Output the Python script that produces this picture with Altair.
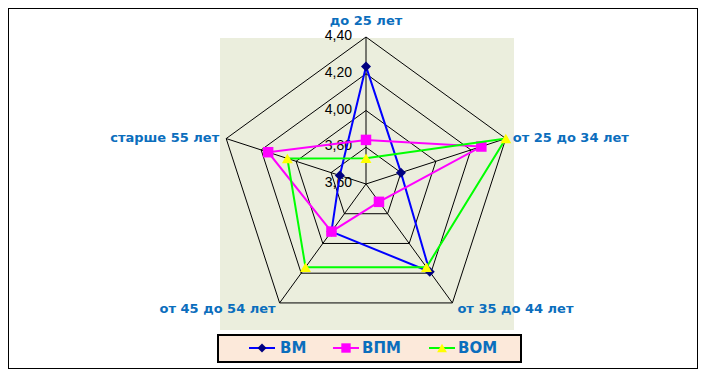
import altair as alt
import pandas as pd

categories = ["до 25 лет", "от 25 до 34 лет", "от 35 до 44 лет", "от 45 до 54 лет", "старше 55 лет"]
series_names = ["ВМ", "ВПМ", "ВОМ"]
vm = [4.24, 3.80, 4.19, 3.92, 3.75]
vpm = [3.84, 4.26, 3.72, 3.92, 4.16]
vom = [3.74, 4.40, 4.16, 4.16, 4.05]
ticks = [3.6, 3.8, 4.0, 4.2, 4.4]
tick_labels = ["3,60", "3,80", "4,00", "4,20", "4,40"]

VMIN = 3.6
W, H = 690, 361
CX, CY, PX = 358, 176, 183.75  # chart centre and pixels per unit

xs = alt.Scale(domain=[-CX / PX, (W - CX) / PX], nice=False, zero=False)
ys = alt.Scale(domain=[-(H - CY) / PX, CY / PX], nice=False, zero=False)


def polar(chart):
    return chart.transform_calculate(ang="2*PI*datum.idx/5").transform_calculate(
        px=f"(datum.value-{VMIN})*sin(datum.ang)",
        py=f"(datum.value-{VMIN})*cos(datum.ang)",
    )


blue_txt = "#0B6EBD"
font = "Liberation Sans"
bold_font = "DejaVu Sans"

one = pd.DataFrame({"a": [0]})

# plot-area background
bg = alt.Chart(one).mark_rect(color="#EBEEDD").encode(
    x=alt.value(212), x2=alt.value(506), y=alt.value(30), y2=alt.value(322)
)

# rings
ring_rows = []
for t in ticks[1:]:
    for k in range(6):
        ring_rows.append({"ring": t, "idx": k % 5, "k": k, "value": t})
rings = polar(alt.Chart(pd.DataFrame(ring_rows))).mark_line(
    color="black", strokeWidth=1
).encode(
    x=alt.X("px:Q", scale=xs, axis=None),
    y=alt.Y("py:Q", scale=ys, axis=None),
    detail="ring:N",
    order="k:Q",
)

# spokes
spoke_df = pd.DataFrame({"idx": list(range(5)), "value": [ticks[-1]] * 5})
spokes = polar(alt.Chart(spoke_df)).transform_calculate(zero="0").mark_rule(
    color="black", strokeWidth=1
).encode(
    x=alt.X("zero:Q", scale=xs, axis=None),
    y=alt.Y("zero:Q", scale=ys, axis=None),
    x2="px:Q",
    y2="py:Q",
)

# tick labels
tick_df = pd.DataFrame({"idx": [0] * len(ticks), "value": ticks, "lab": tick_labels})
tick_text = polar(alt.Chart(tick_df)).mark_text(
    align="right", baseline="middle", dx=-14, dy=-1, fontSize=14, font=font, color="black"
).encode(
    x=alt.X("px:Q", scale=xs, axis=None),
    y=alt.Y("py:Q", scale=ys, axis=None),
    text="lab:N",
)

# category labels
cat_opts = [
    ("center", 0, -16),
    ("left", 7, -1),
    ("left", 5, 6),
    ("right", -4, 6),
    ("right", -7, -1),
]
cat_layers = []
for i, (al, ddx, ddy) in enumerate(cat_opts):
    d = pd.DataFrame({"idx": [i], "value": [ticks[-1]], "lab": [categories[i]]})
    cat_layers.append(
        polar(alt.Chart(d)).mark_text(
            align=al, baseline="middle", dx=ddx, dy=ddy, fontSize=13,
            fontWeight="bold", font=bold_font, color=blue_txt
        ).encode(
            x=alt.X("px:Q", scale=xs, axis=None),
            y=alt.Y("py:Q", scale=ys, axis=None),
            text="lab:N",
        )
    )

styles = [
    ("ВМ", vm, "#0000FF", "#000080", "diamond", 100),
    ("ВПМ", vpm, "#FF00FF", "#FF00FF", "square", 110),
    ("ВОМ", vom, "#00FF00", "#FFFF00", "triangle-up", 120),
]
series_layers = []
for name, vals, lc, mc, shp, sz in styles:
    rows = [{"idx": k % 5, "k": k, "value": vals[k % 5]} for k in range(6)]
    base = polar(alt.Chart(pd.DataFrame(rows)))
    line = base.mark_line(color=lc, strokeWidth=2).encode(
        x=alt.X("px:Q", scale=xs, axis=None),
        y=alt.Y("py:Q", scale=ys, axis=None),
        order="k:Q",
    )
    pts = base.transform_filter("datum.k < 5").mark_point(
        shape=shp, filled=True, color=mc, opacity=1, size=sz
    ).encode(
        x=alt.X("px:Q", scale=xs, axis=None),
        y=alt.Y("py:Q", scale=ys, axis=None),
    )
    series_layers += [line, pts]

# legend
leg_box = alt.Chart(one).mark_rect(
    color="#FCE9DA", stroke="black", strokeWidth=2
).encode(x=alt.value(210), x2=alt.value(513), y=alt.value(327), y2=alt.value(354))

leg_pos = [(241, 254, 272), (325, 338, 354), (421, 434, 450)]
leg_layers = []
for (name, vals, lc, mc, shp, sz), (lx, mx, tx) in zip(styles, leg_pos):
    leg_layers.append(
        alt.Chart(one).mark_rule(color=lc, strokeWidth=2).encode(
            x=alt.value(lx), x2=alt.value(lx + 26), y=alt.value(340)
        )
    )
    leg_layers.append(
        alt.Chart(one).mark_point(shape=shp, filled=True, color=mc, opacity=1, size=sz * 0.8).encode(
            x=alt.value(mx), y=alt.value(340)
        )
    )
    leg_layers.append(
        alt.Chart(pd.DataFrame({"t": [name]})).mark_text(
            align="left", baseline="middle", fontSize=15, fontWeight="bold",
            font=bold_font, color=blue_txt
        ).encode(x=alt.value(tx), y=alt.value(340), text="t:N")
    )

chart = alt.layer(
    bg, rings, spokes, tick_text, *series_layers, *cat_layers, leg_box, *leg_layers
).properties(
    width=W, height=H, autosize=alt.AutoSizeParams(type="none"), padding=0
).configure_view(stroke="black", strokeWidth=2)

chart.save("out.html", embed_options={"renderer": "svg", "actions": False})
